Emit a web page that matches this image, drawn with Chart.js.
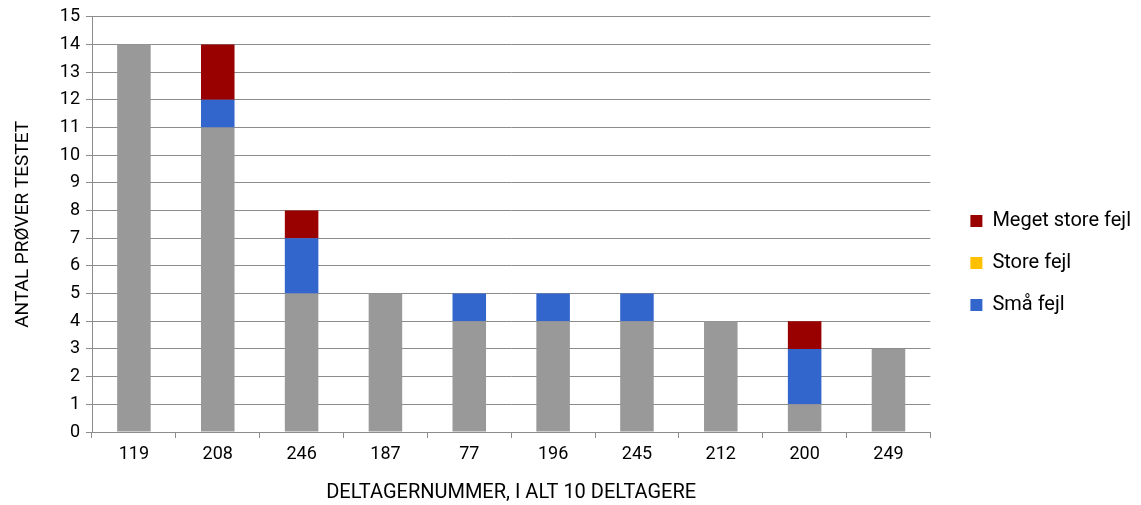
<!DOCTYPE html>
<html><head><meta charset="utf-8">
<script src="https://cdn.jsdelivr.net/npm/chart.js@4/dist/chart.umd.min.js"></script>
<style>html,body{margin:0;padding:0;background:#fff}#wrap{width:1141px;height:505px;position:relative}</style>
</head><body><div id="wrap"><canvas id="c"></canvas></div>
<script>
const categories = ['119','208','246','187','77','196','245','212','200','249'];
const ingenFejl = [14,11,5,5,4,4,4,4,1,3];
const smaaFejl = [0,1,2,0,1,1,1,0,2,0];
const storeFejl = [0,0,0,0,0,0,0,0,0,0];
const megetStoreFejl = [0,2,1,0,0,0,0,0,1,0];
const yTicks = [0,1,2,3,4,5,6,7,8,9,10,11,12,13,14,15];

const FONT = 'Roboto';
const gridCol = '#8c8c8c';
const shiftLegend = {
  id: 'shiftLegend',
  afterLayout(chart) {
    const lg = chart.legend;
    if (lg) { lg.left += 18; lg.right += 18; }
  }
};
new Chart(document.getElementById('c'), {
  type: 'bar',
  plugins: [shiftLegend],
  data: {
    labels: categories,
    datasets: [
      {label: 'Ingen fejl', data: ingenFejl, backgroundColor: '#999999'},
      {label: 'Små fejl', data: smaaFejl, backgroundColor: '#3366CC'},
      {label: 'Store fejl', data: storeFejl, backgroundColor: '#FFC000'},
      {label: 'Meget store fejl', data: megetStoreFejl, backgroundColor: '#990000'}
    ]
  },
  options: {
    responsive: true, maintainAspectRatio: false, animation: false,
    datasets: {bar: {barPercentage: 0.4, categoryPercentage: 1}},
    layout: {padding: {top: 12, right: 18, left: 0, bottom: 0}},
    plugins: {
      tooltip: {enabled: false},
      legend: {
        position: 'right', reverse: true,
        title: {display: true, text: ' ', font: {size: 1}, padding: 4},
        labels: {
          filter: (item) => item.text !== 'Ingen fejl',
          boxWidth: 12, boxHeight: 12, padding: 22,
          color: '#000', font: {family: FONT, size: 20}
        }
      }
    },
    scales: {
      x: {
        stacked: true,
        grid: {offset: true, drawOnChartArea: false, drawTicks: true, tickLength: 6, color: gridCol},
        border: {color: gridCol},
        ticks: {color: '#000', font: {family: FONT, size: 18}, padding: 6},
        title: {display: true, text: 'DELTAGERNUMMER, I ALT 10 DELTAGERE', color: '#000', font: {family: FONT, size: 20}, padding: {top: 20, bottom: 0}},
        afterFit: (s) => { s.height = 73; }
      },
      y: {
        stacked: true, min: 0, max: 15,
        afterBuildTicks: (s) => { s.ticks = yTicks.map(v => ({value: v})); },
        grid: {color: gridCol, tickLength: 6},
        border: {color: gridCol},
        ticks: {color: '#000', font: {family: FONT, size: 18}, padding: 6},
        title: {display: true, text: 'ANTAL PRØVER TESTET', color: '#000', font: {family: FONT, size: 19}, padding: {top: 12, bottom: 0}},
        afterFit: (s) => { s.width = 92; }
      }
    }
  }
});
</script></body></html>
